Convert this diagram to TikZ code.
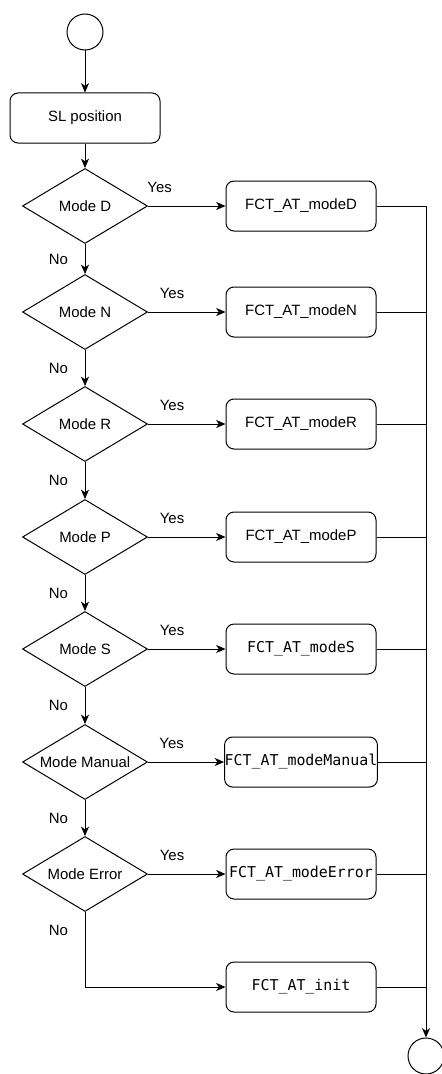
\documentclass[tikz,border=0pt]{standalone}
\usepackage{fontspec}
\setmainfont{Liberation Sans}
\setmonofont{DejaVu Sans Mono}
\usetikzlibrary{shapes.geometric, positioning, arrows.meta}

\begin{document}
\begin{tikzpicture}[x=0.75pt, y=-0.75pt, line width=0.75pt,
        font=\fontsize{11.2}{13}\selectfont,
        >={Stealth[length=7pt,width=6pt,inset=2pt]},
        term/.style={circle, draw, minimum size=27pt, inner sep=0pt},
        proc/.style={rectangle, rounded corners=6pt, draw, minimum width=112.5pt, minimum height=37.5pt, inner sep=0pt},
        code/.style={proc, font=\fontsize{11.2}{13}\selectfont\ttfamily},
        test/.style={diamond, draw, shape aspect=1.67, minimum width=93.75pt, minimum height=56.25pt, inner sep=0pt}]
        \useasboundingbox (0,0) rectangle (442,1074);
        \node[term] (start) at (85,32) {};
        \node[proc] (sl) at (85,118) {SL position};
        \node[test] (m_D) at (85,206) {Mode D};
        \node[test] (m_N) at (85,312) {Mode N};
        \node[test] (m_R) at (85,424) {Mode R};
        \node[test] (m_P) at (85,537) {Mode P};
        \node[test] (m_S) at (85,649) {Mode S};
        \node[test] (m_M) at (85,762) {Mode Manual};
        \node[test] (m_E) at (85,874) {Mode Error};
        \node[proc] (f_D) at (301,206) {FCT\_AT\_modeD};
        \node[proc] (f_N) at (301,312) {FCT\_AT\_modeN};
        \node[proc] (f_R) at (301,424) {FCT\_AT\_modeR};
        \node[proc] (f_P) at (301,537) {FCT\_AT\_modeP};
        \node[code] (f_S) at (301,649) {FCT\_AT\_modeS};
        \node[code] (f_M) at (301,762) {FCT\_AT\_modeManual};
        \node[code] (f_E) at (301,874) {FCT\_AT\_modeError};
        \node[code] (f_I) at (301,987) {FCT\_AT\_init};
        \node[term] (stop) at (426,1056) {};
        \path[->]
        (start) edge (sl)
        (sl) edge (m_D)
        (m_D) edge node[pos=0.15, above=6pt] {Yes} (f_D)
              edge node[left=9pt] {No} (m_N)
        (m_N) edge node[pos=0.31, above=6pt] {Yes} (f_N)
              edge node[left=9pt] {No} (m_R)
        (m_R) edge node[pos=0.31, above=6pt] {Yes} (f_R)
              edge node[left=9pt] {No} (m_P)
        (m_P) edge node[pos=0.31, above=6pt] {Yes} (f_P)
              edge node[left=9pt] {No} (m_S)
        (m_S) edge node[pos=0.31, above=6pt] {Yes} (f_S)
              edge node[left=9pt] {No} (m_M)
        (m_M) edge node[pos=0.31, above=6pt] {Yes} (f_M)
              edge node[left=9pt] {No} (m_E)
        (m_E) edge node[pos=0.31, above=6pt] {Yes} (f_E);
        \draw[->] (m_E) |- node[pos=0.12, left=9pt] {No} (f_I);
        \draw[->] (f_D) -| (stop);
        \draw (f_N) -- (f_N -| stop);
        \draw (f_R) -- (f_R -| stop);
        \draw (f_P) -- (f_P -| stop);
        \draw (f_S) -- (f_S -| stop);
        \draw (f_M) -- (f_M -| stop);
        \draw (f_E) -- (f_E -| stop);
        \draw (f_I) -- (f_I -| stop);
      \end{tikzpicture}
\end{document}
